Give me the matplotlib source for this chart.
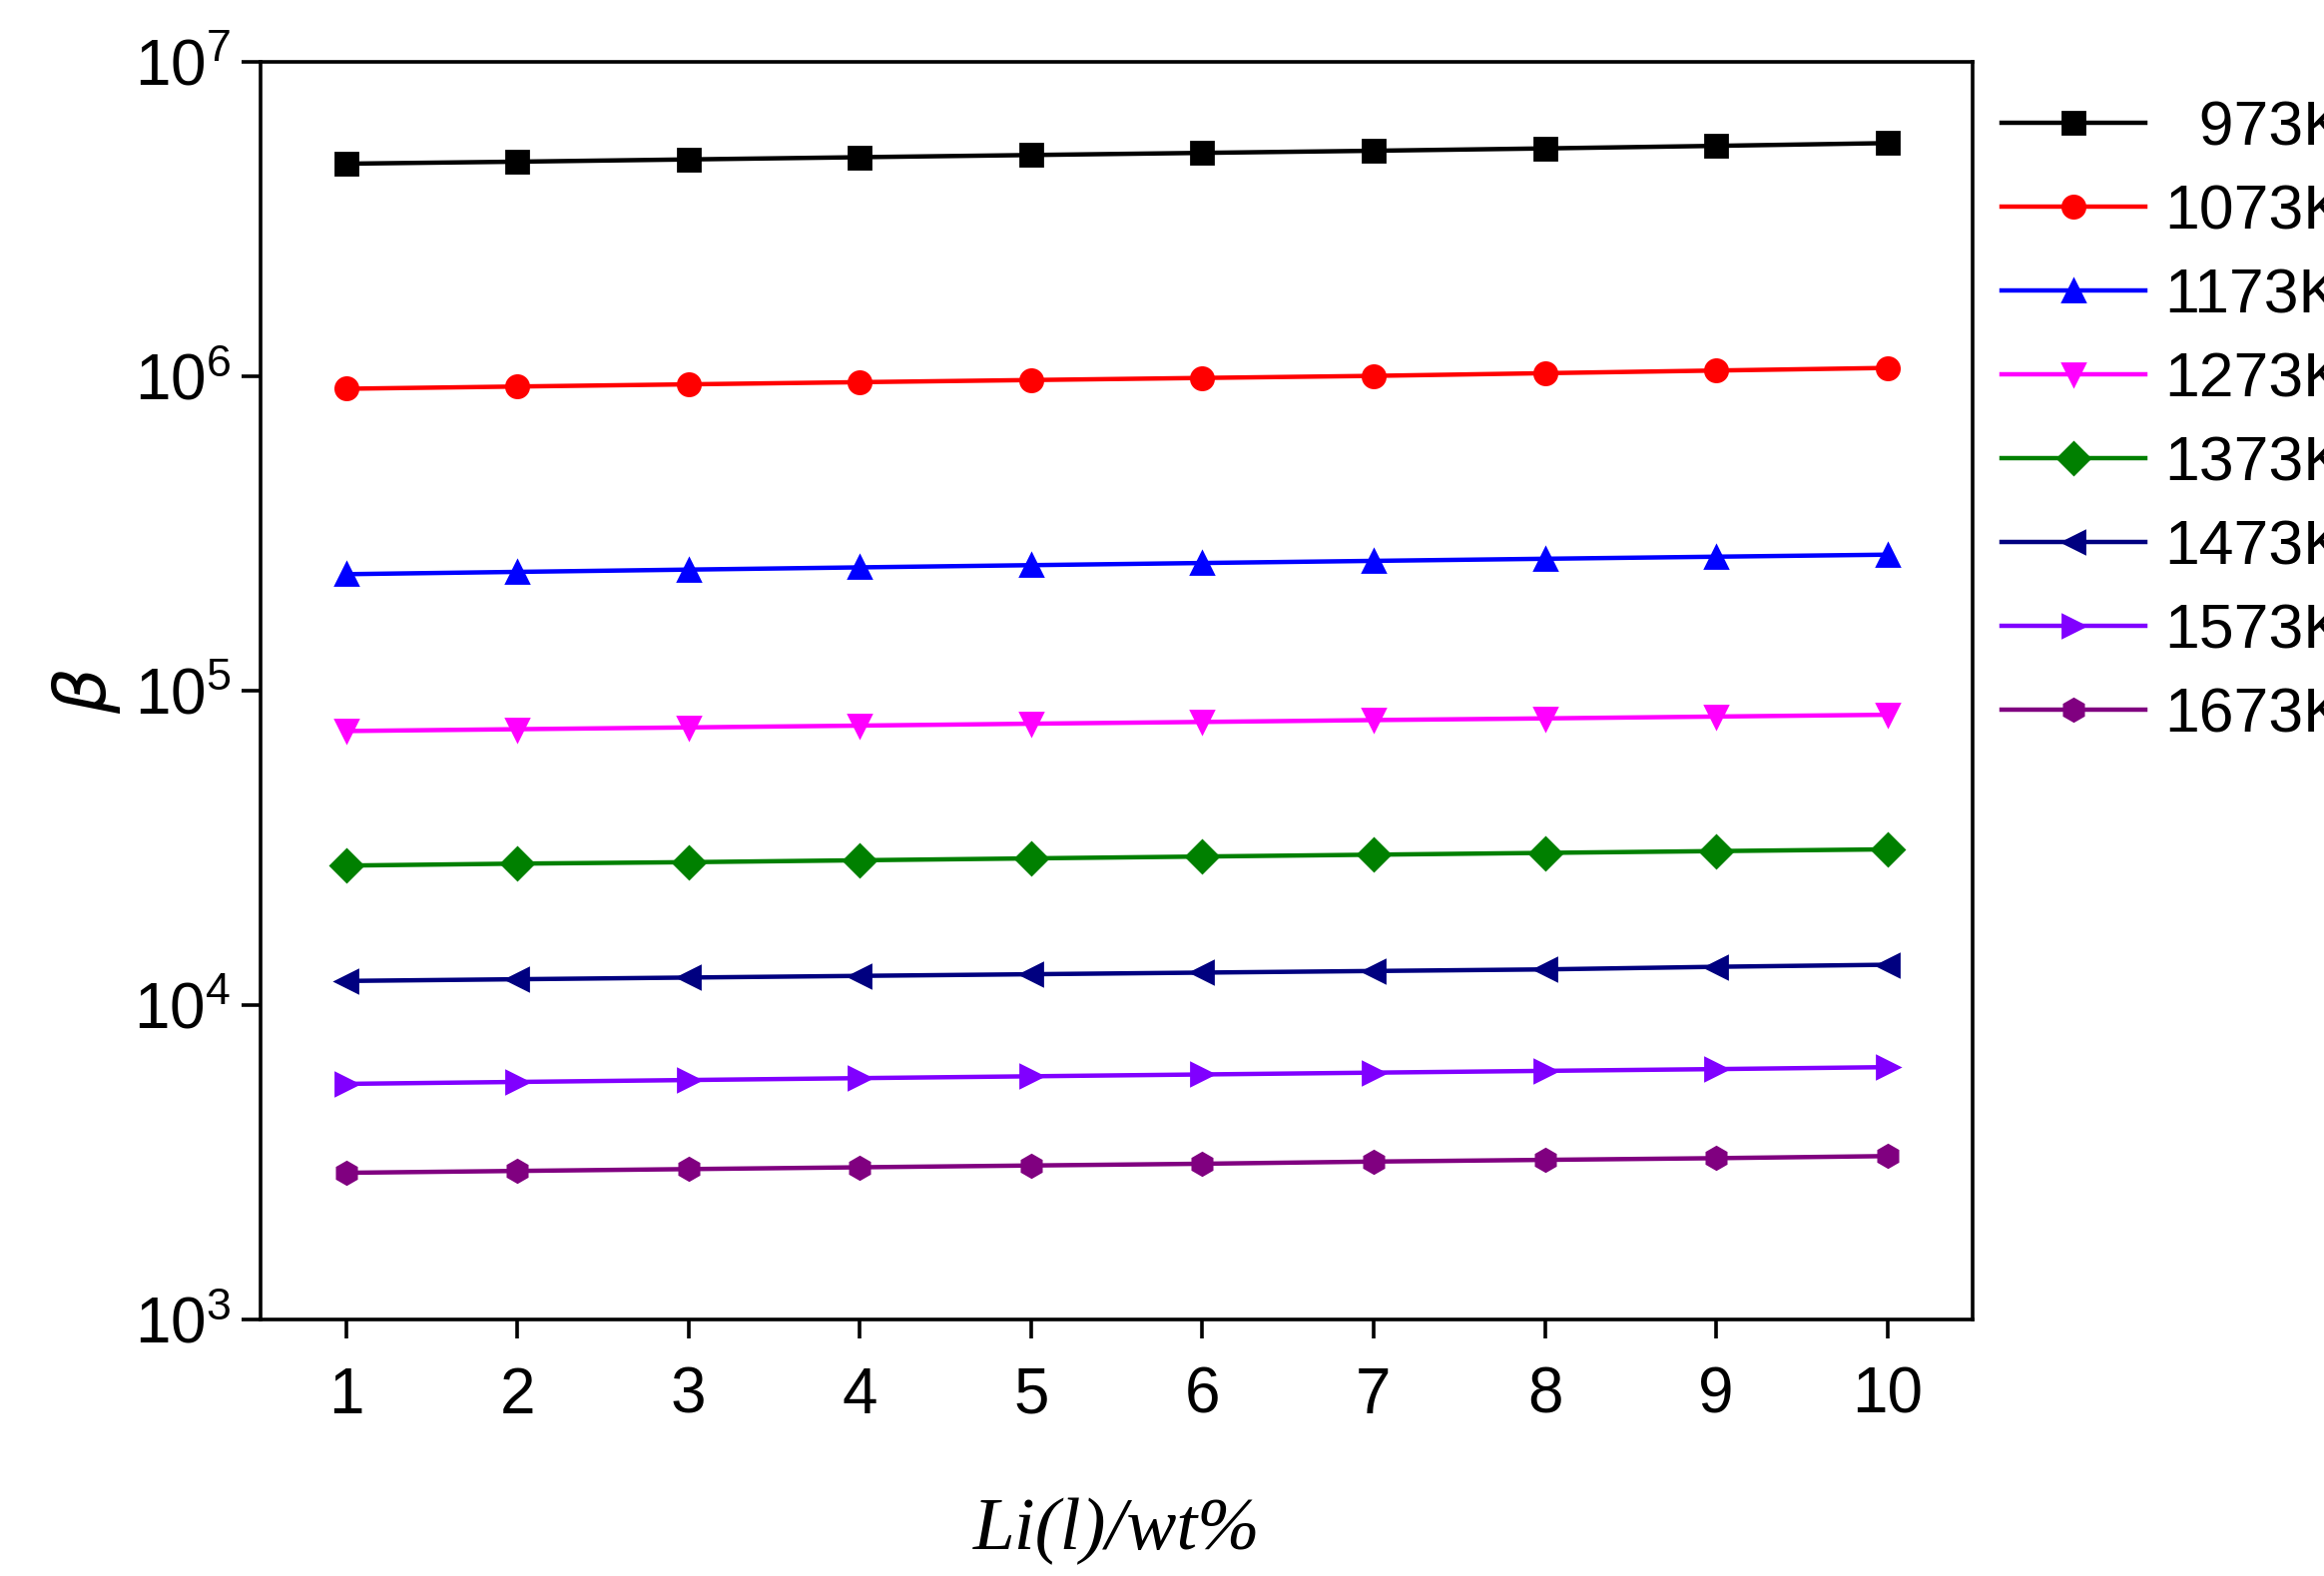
import matplotlib
matplotlib.use("Agg")
import matplotlib.pyplot as plt

x = [1, 2, 3, 4, 5, 6, 7, 8, 9, 10]
labels = ["  973K", "1073K", "1173K", "1273K", "1373K", "1473K", "1573K", "1673K"]
b973 = [4.73e6, 4.80e6, 4.88e6, 4.96e6, 5.04e6, 5.12e6, 5.20e6, 5.29e6, 5.39e6, 5.50e6]
b1073 = [9.10e5, 9.25e5, 9.40e5, 9.55e5, 9.70e5, 9.85e5, 1.00e6, 1.02e6, 1.04e6, 1.06e6]
b1173 = [2.34e5, 2.38e5, 2.42e5, 2.46e5, 2.50e5, 2.54e5, 2.58e5, 2.62e5, 2.66e5, 2.70e5]
b1273 = [7.42e4, 7.52e4, 7.62e4, 7.72e4, 7.83e4, 7.93e4, 8.04e4, 8.14e4, 8.25e4, 8.36e4]
b1373 = [2.77e4, 2.81e4, 2.84e4, 2.88e4, 2.92e4, 2.96e4, 3.00e4, 3.04e4, 3.08e4, 3.12e4]
b1473 = [1.19e4, 1.205e4, 1.22e4, 1.235e4, 1.25e4, 1.265e4, 1.28e4, 1.295e4, 1.32e4, 1.34e4]
b1573 = [5.60e3, 5.68e3, 5.76e3, 5.84e3, 5.92e3, 6.00e3, 6.08e3, 6.16e3, 6.24e3, 6.33e3]
b1673 = [2.92e3, 2.96e3, 3.00e3, 3.04e3, 3.08e3, 3.12e3, 3.17e3, 3.21e3, 3.25e3, 3.30e3]
series = [b973, b1073, b1173, b1273, b1373, b1473, b1573, b1673]
colors = ["black", "#ff0000", "#0000ff", "#ff00ff", "#008000", "#000080", "#8000ff", "#800080"]
markers = ["s", "o", "^", "v", "D", "<", ">", "h"]

plt.rcParams['font.family'] = ['Liberation Sans', 'DejaVu Sans']
fig = plt.figure(figsize=(11.64, 7.895), dpi=200)
ax = fig.add_axes([0.112, 0.163, 0.737, 0.798])
for s, c, m, l in zip(series, colors, markers, labels):
    ax.plot(x, s, color=c, marker=m, markersize=8, lw=1.6, label=l)
ax.set_yscale('log')
ax.set_ylim(1e3, 1e7)
ax.set_xlim(0.5, 10.5)
ax.set_xticks(x)
ax.minorticks_off()
ax.tick_params(labelsize=23, width=1.3, length=7, direction='out', top=False, right=False)
ax.tick_params(axis='x', pad=10)
for sp in ax.spines.values():
    sp.set_linewidth(1.3)
ax.set_xlabel('Li(l)/wt%', fontsize=27, family='Liberation Serif', style='italic', labelpad=26)
ax.set_ylabel(r'$\beta$', fontsize=26, labelpad=4)
ax.legend(loc='upper left', bbox_to_anchor=(0.995, 1.0), frameon=False, fontsize=22.5,
          handlelength=2.3, labelspacing=0.4, borderaxespad=0.2, handletextpad=0.3)
fig.savefig('out.png', dpi=200)
